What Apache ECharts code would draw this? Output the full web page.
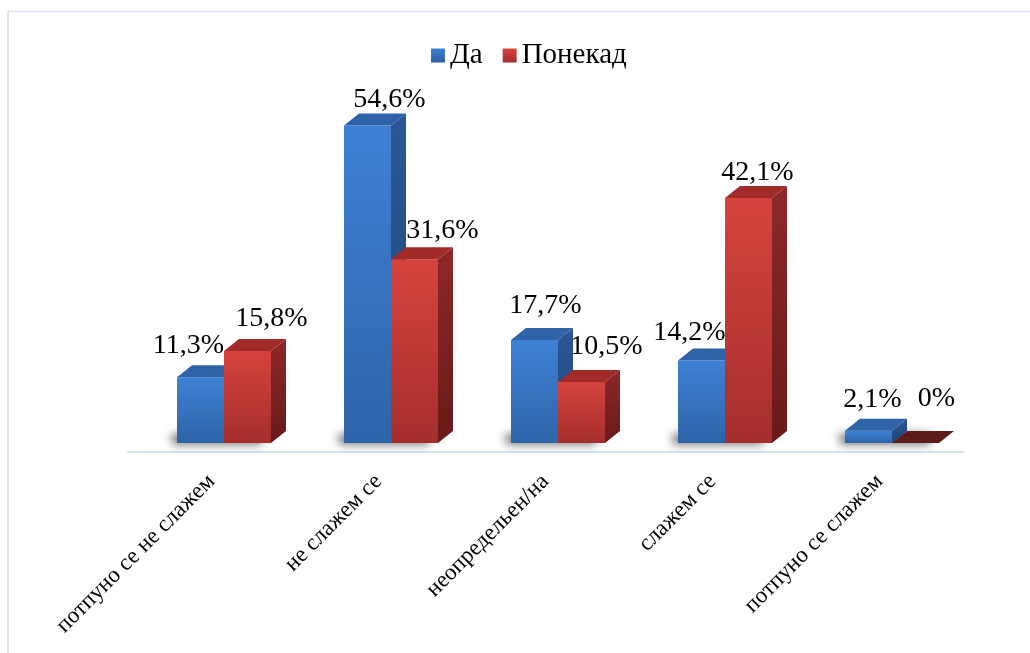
<!DOCTYPE html>
<html>
<head>
<meta charset="utf-8">
<style>
  html, body { margin: 0; padding: 0; background: #ffffff; }
  #chart { width: 1030px; height: 653px; }
</style>
<script src="https://cdn.jsdelivr.net/npm/echarts@6/dist/echarts.min.js"></script>
</head>
<body>
<div id="chart"></div>
<script>
// Answers per attitude category, in percent
const categories = ['потпуно се не слажем', 'не слажем се', 'неопредельен/на', 'слажем се', 'потпуно се слажем'];
const seriesNames = ['Да', 'Понекад'];
const valuesDa = [11.3, 54.6, 17.7, 14.2, 2.1];
const valuesPonekad = [15.8, 31.6, 10.5, 42.1, 0];

// Value-label nudges (px) relative to the front face centre / top edge
const labelNudgeDa = { dx: [-12, 22, 11, -12, 4], dy: [-32, -26, -34, -28, -31] };
const labelNudgePonekad = { dx: [24, 28, 25, 9, 21], dy: [-32, -29, -35, -25, -44] };

const FONT = 'Liberation Serif, DejaVu Serif, serif';
const BAR_W = 47;          // front face width
const DEPTH_X = 15;        // 3D depth offset
const DEPTH_Y = -12;
const SHIFT_X = 12.5;      // bars sit back from the floor's front edge
const SHIFT_Y = -9;

const grad = (a, b) => new echarts.graphic.LinearGradient(0, 0, 0, 1, [
  { offset: 0, color: a }, { offset: 1, color: b }
]);

const palette = [
  { front: ['#3e81d5', '#2e64a9'], side: ['#2b5896', '#1e4376'], top: '#2f62a7', flat: '#2f62a7' },
  { front: ['#d6433e', '#a42e2c'], side: ['#8e2828', '#691919'], top: '#a02b28', flat: '#5c1c1a' }
];

function fmt(v) {
  return String(v).replace('.', ',') + '%';
}

function makeRender(sIdx, nudge) {
  return function (params, api) {
    const idx = api.value(0);
    const v = api.value(1);
    const base = api.coord([idx, 0]);
    const top = api.coord([idx, v]);
    const c = palette[sIdx];
    const x0 = base[0] + SHIFT_X + (sIdx === 0 ? -BAR_W : 0);
    const yb = base[1] + SHIFT_Y;
    const yt = top[1] + SHIFT_Y;
    const x1 = x0 + BAR_W;
    const children = [];

    if (sIdx === 0) {
      // soft floor shadow: the block hides under the bars, only its blur shows
      children.push({
        type: 'rect',
        shape: { x: x0 + 4, y: yb - 10, width: 2 * BAR_W - 4, height: 10 },
        style: { fill: '#8a8a8a', shadowBlur: 10, shadowColor: 'rgba(0,0,0,0.6)', shadowOffsetX: -9, shadowOffsetY: 1 },
        silent: true
      });
    }

    if (yb - yt > 0.5) {
      children.push({
        type: 'rect',
        shape: { x: x0, y: yt, width: BAR_W, height: yb - yt },
        style: { fill: grad(c.front[0], c.front[1]) }
      });
      children.push({
        type: 'polygon',
        shape: { points: [[x1, yt], [x1 + DEPTH_X, yt + DEPTH_Y], [x1 + DEPTH_X, yb + DEPTH_Y], [x1, yb]] },
        style: { fill: grad(c.side[0], c.side[1]) }
      });
    }
    children.push({
      type: 'polygon',
      shape: { points: [[x0, yt], [x0 + DEPTH_X, yt + DEPTH_Y], [x1 + DEPTH_X, yt + DEPTH_Y], [x1, yt]] },
      style: { fill: v === 0 ? c.flat : c.top }
    });
    children.push({
      type: 'text',
      style: {
        text: fmt(v),
        x: x0 + BAR_W / 2 + nudge.dx[idx],
        y: yt + nudge.dy[idx],
        align: 'center',
        verticalAlign: 'middle',
        fontSize: 28,
        fontFamily: FONT,
        fill: '#000000'
      },
      z2: 10
    });
    return { type: 'group', children: children };
  };
}

const chart = echarts.init(document.getElementById('chart'), null, { renderer: 'canvas' });

chart.setOption({
  backgroundColor: '#ffffff',
  animation: false,
  graphic: [
    { type: 'line', shape: { x1: 7, y1: 11.5, x2: 1030, y2: 11.5 }, style: { stroke: '#d9e3f1', lineWidth: 1.5 } },
    { type: 'line', shape: { x1: 8, y1: 11, x2: 8, y2: 653 }, style: { stroke: '#d9e3f1', lineWidth: 2 } }
  ],
  legend: {
    top: 36,
    left: 426,
    itemWidth: 14,
    itemHeight: 14,
    itemGap: 20,
    icon: 'rect',
    textStyle: { fontSize: 29, fontFamily: FONT, color: '#000000' },
    data: [
      { name: seriesNames[0], itemStyle: { color: grad('#3e81d5', '#2c5fa3') } },
      { name: seriesNames[1], itemStyle: { color: grad('#d6433e', '#a42e2c') } }
    ]
  },
  grid: { left: 128, right: 67, top: 103, bottom: 201 },
  xAxis: {
    type: 'category',
    data: categories,
    axisLine: { show: true, lineStyle: { color: '#d6e2f2', width: 2 } },
    axisTick: { show: false },
    axisLabel: {
      interval: 0,
      rotate: 45,
      margin: 26,
      fontSize: 23,
      fontFamily: FONT,
      color: '#000000'
    },
    splitLine: { show: false }
  },
  yAxis: {
    type: 'value',
    min: 0,
    max: 60,
    interval: 10,
    show: false,
    splitLine: { show: false }
  },
  series: [
    {
      name: seriesNames[0],
      type: 'custom',
      renderItem: makeRender(0, labelNudgeDa),
      encode: { x: 0, y: 1 },
      data: valuesDa.map((v, i) => [i, v]),
      itemStyle: { color: '#3e81d5' }
    },
    {
      name: seriesNames[1],
      type: 'custom',
      renderItem: makeRender(1, labelNudgePonekad),
      encode: { x: 0, y: 1 },
      data: valuesPonekad.map((v, i) => [i, v]),
      itemStyle: { color: '#d6433e' }
    }
  ]
});
</script>
</body>
</html>
